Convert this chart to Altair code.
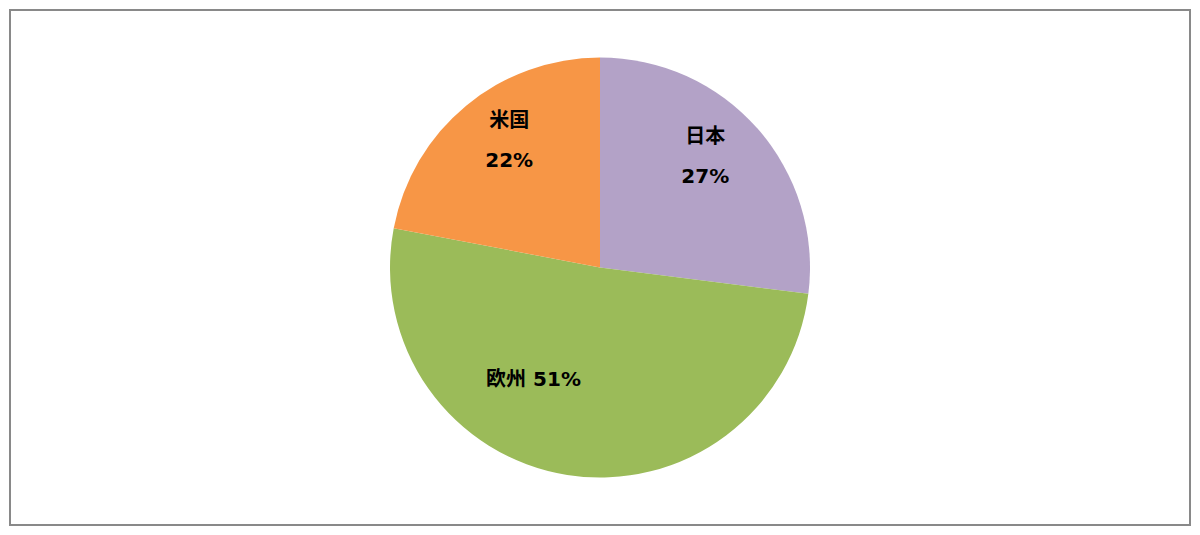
import altair as alt
import pandas as pd

regions = ["日本", "欧州", "米国"]
shares = [27, 51, 22]
order_idx = [0, 1, 2]
colors = ["#B3A2C7", "#9BBB59", "#F79646"]

df = pd.DataFrame({
    "region": regions,
    "share": shares,
    "idx": order_idx,
})
df["label"] = [f"{r}\n{s}%" if r != "欧州" else f"{r} {s}%" for r, s in zip(regions, shares)]

W, H = 1180, 515

base = alt.Chart(df).encode(
    theta=alt.Theta("share:Q", stack=True),
    order=alt.Order("idx:Q"),
)

pie = base.mark_arc(radius=210).encode(
    color=alt.Color("region:N", scale=alt.Scale(domain=regions, range=colors), legend=None)
)

font = "DejaVu Sans, Verdana, Noto Sans CJK JP, sans-serif"


def label_layer(region, radius, dx, dy):
    return base.mark_text(
        radius=radius, fontSize=20, fontWeight="bold", font=font, color="black",
        lineBreak="\n", lineHeight=40, baseline="middle", align="center",
        dx=dx, dy=dy,
    ).transform_calculate(
        t=f"datum.region == '{region}' ? datum.label : ''"
    ).encode(text="t:N")


lab_jp = label_layer("日本", 155, -11, -28)
lab_us = label_layer("米国", 155, 8, -27)
lab_eu = label_layer("欧州", 131, -46, -17)

border = alt.Chart(pd.DataFrame({"a": [0]})).mark_rect(
    fill=None, stroke="#898989", strokeWidth=2
).encode(x=alt.value(0), x2=alt.value(W), y=alt.value(0), y2=alt.value(H))

chart = alt.layer(border, pie, lab_jp, lab_us, lab_eu).properties(
    width=W, height=H, padding=2,
    autosize=alt.AutoSizeParams(type="none"),
).configure_view(stroke=None)

chart.save("out.html", embed_options={"renderer": "svg", "actions": False})
